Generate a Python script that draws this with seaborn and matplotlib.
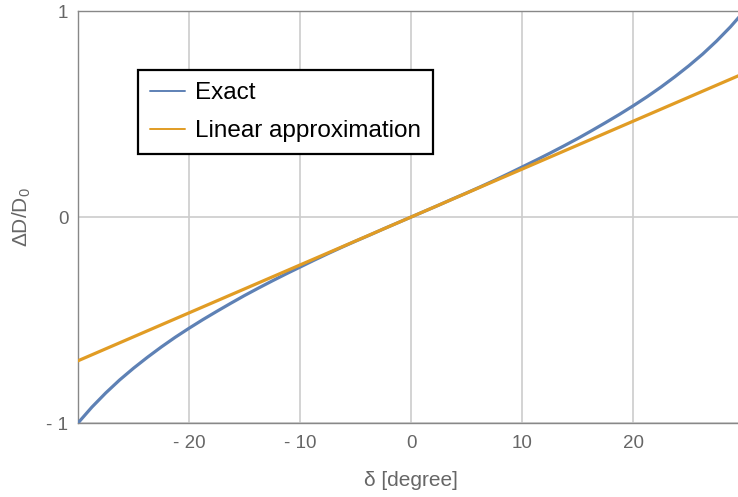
import matplotlib
matplotlib.use("Agg")
import matplotlib.pyplot as plt
from matplotlib.lines import Line2D
import pandas as pd
import seaborn as sns

# Relative change of D against the angle delta (degrees)
delta_deg = [-30, -28.75, -27.5, -26.25, -25, -23.75, -22.5, -21.25, -20, -18.75, -17.5, -16.25,
             -15, -13.75, -12.5, -11.25, -10, -8.75, -7.5, -6.25, -5, -3.75, -2.5, -1.25,
             0, 1.25, 2.5, 3.75, 5, 6.25, 7.5, 8.75, 10, 11.25, 12.5, 13.75,
             15, 16.25, 17.5, 18.75, 20, 21.25, 22.5, 23.75, 25, 26.25, 27.5, 28.75, 30]
exact = [-1.0, -0.923, -0.854, -0.791, -0.734, -0.681, -0.631, -0.584, -0.540, -0.498, -0.458, -0.419,
         -0.381, -0.345, -0.310, -0.276, -0.243, -0.210, -0.178, -0.147, -0.117, -0.088, -0.058, -0.029,
         0.0, 0.029, 0.058, 0.088, 0.117, 0.147, 0.178, 0.210, 0.243, 0.276, 0.310, 0.345,
         0.381, 0.419, 0.458, 0.498, 0.540, 0.584, 0.631, 0.681, 0.734, 0.791, 0.854, 0.923, 1.0]
linear_delta = [-30, 30]
linear_values = [-0.698, 0.698]

series_names = ["Exact", "Linear approximation"]
series_colors = ["#5E81B5", "#E19C24"]

x_ticks = [-20, -10, 0, 10, 20]
x_tick_labels = ["- 20", "- 10", "0", "10", "20"]
y_ticks = [-1, 0, 1]
y_tick_labels = ["- 1", "0", "1"]

sns.set_style("white")
plt.rcParams["font.family"] = ["Liberation Sans", "DejaVu Sans"]
plt.rcParams["mathtext.default"] = "regular"

df = pd.concat([
    pd.DataFrame({"delta": delta_deg, "value": exact, "series": series_names[0]}),
    pd.DataFrame({"delta": linear_delta, "value": linear_values, "series": series_names[1]}),
], ignore_index=True)

W, H = 738, 497
fig = plt.figure(figsize=(W / 100, H / 100), dpi=100)
left, right, top, bottom = 78, 738, 11, 423
ax = fig.add_axes([left / W, 1 - bottom / H, (right - left) / W, (bottom - top) / H])

palette = dict(zip(series_names, series_colors))
sns.lineplot(data=df, x="delta", y="value", hue="series", hue_order=series_names,
             palette=palette, estimator=None, sort=False, linewidth=2.3,
             legend=False, ax=ax, zorder=3)

ax.set_xlim(-30, 29.43)
ax.set_ylim(-1, 1)

grid_col = "#cccccc"
for xv in x_ticks:
    ax.axvline(xv, color=grid_col, lw=1.2, zorder=1)
for yv in y_ticks:
    ax.axhline(yv, color=grid_col, lw=1.2, zorder=1)

ax.set_xticks(x_ticks)
ax.set_xticklabels(x_tick_labels)
ax.set_yticks(y_ticks)
ax.set_yticklabels(y_tick_labels)

label_col = "#666666"
spine_col = "#888888"
ax.tick_params(axis="both", direction="in", length=6, width=1, color=spine_col,
               labelcolor=label_col, labelsize=13.5)
ax.tick_params(axis="x", pad=9)
ax.tick_params(axis="y", pad=7)

for side in ["left", "bottom", "top"]:
    ax.spines[side].set_visible(True)
    ax.spines[side].set_color(spine_col)
    ax.spines[side].set_linewidth(1)
ax.spines["right"].set_visible(False)

ax.set_xlabel("δ [degree]", color=label_col, fontsize=15)
ax.set_ylabel("ΔD/D$_0$", color=label_col, fontsize=15)
ax.xaxis.set_label_coords((411 - left) / (right - left), (bottom - 471) / (bottom - top))
ax.yaxis.set_label_coords((33 - left) / (right - left), 0.5)

handles = [Line2D([0], [0], color=c, lw=1.4) for c in series_colors]
leg = ax.legend(handles, series_names, loc="upper left",
                bbox_to_anchor=((138 - left) / (right - left), (bottom - 70) / (bottom - top)),
                borderaxespad=0, fontsize=17.5, frameon=True, fancybox=False,
                handlelength=1.45, handletextpad=0.38, borderpad=0.5, labelspacing=0.66,
                labelcolor="black")
frame = leg.get_frame()
frame.set_edgecolor("black")
frame.set_linewidth(1.6)
frame.set_facecolor("white")
frame.set_alpha(1)
leg.set_zorder(5)

fig.savefig("out.png", dpi=100)
